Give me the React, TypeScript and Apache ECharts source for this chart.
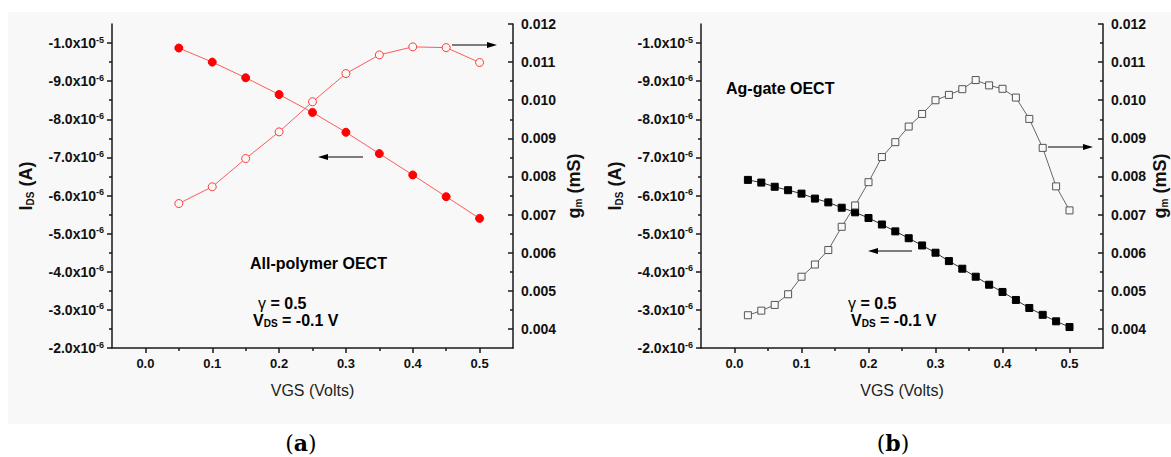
import React, { useEffect, useRef } from 'react';
import * as echarts from 'echarts';

// ---------- Data ----------
const VGS_A = [0.05, 0.1, 0.15, 0.2, 0.25, 0.3, 0.35, 0.4, 0.45, 0.5];
const IDS_A = [-9.87e-6, -9.5e-6, -9.09e-6, -8.65e-6, -8.18e-6, -7.66e-6, -7.1e-6, -6.54e-6, -5.97e-6, -5.4e-6];
const GM_A = [0.00729, 0.00773, 0.00847, 0.00917, 0.00996, 0.0107, 0.01119, 0.0114, 0.01138, 0.01099];

const VGS_B = [0.02, 0.04, 0.06, 0.08, 0.1, 0.12, 0.14, 0.16, 0.18, 0.2, 0.22, 0.24, 0.26, 0.28, 0.3, 0.32, 0.34, 0.36, 0.38, 0.4, 0.42, 0.44, 0.46, 0.48, 0.5];
const IDS_B = [-6.41e-6, -6.34e-6, -6.23e-6, -6.14e-6, -6.05e-6, -5.92e-6, -5.82e-6, -5.68e-6, -5.56e-6, -5.41e-6, -5.24e-6, -5.06e-6, -4.88e-6, -4.69e-6, -4.5e-6, -4.28e-6, -4.08e-6, -3.87e-6, -3.66e-6, -3.47e-6, -3.26e-6, -3.05e-6, -2.87e-6, -2.7e-6, -2.55e-6];
const GM_B = [0.00436, 0.00448, 0.00463, 0.00491, 0.00537, 0.00569, 0.00607, 0.00668, 0.00724, 0.00785, 0.00851, 0.0089, 0.00931, 0.00964, 0.01, 0.01014, 0.01029, 0.01053, 0.01039, 0.0103, 0.01007, 0.00951, 0.00875, 0.00774, 0.00711];

// ---------- Tick values ----------
const X_TICKS = [0, 0.1, 0.2, 0.3, 0.4, 0.5];
const X_MINOR = [0.05, 0.15, 0.25, 0.35, 0.45];
const IDS_TICKS = [-1e-5, -9e-6, -8e-6, -7e-6, -6e-6, -5e-6, -4e-6, -3e-6, -2e-6];
const IDS_MINOR = [-9.5e-6, -8.5e-6, -7.5e-6, -6.5e-6, -5.5e-6, -4.5e-6, -3.5e-6, -2.5e-6];
const GM_TICKS = [0.004, 0.005, 0.006, 0.007, 0.008, 0.009, 0.01, 0.011, 0.012];
const GM_MINOR = [0.0045, 0.0055, 0.0065, 0.0075, 0.0085, 0.0095, 0.0105, 0.0115];

const SANS = '"Liberation Sans", Arial, sans-serif';
const AX = '#1a1a1a';

const tickRich = {
  a: { fontFamily: SANS, fontWeight: 'bold' as const, fontSize: 14, color: '#111', lineHeight: 16 },
  s: { fontFamily: SANS, fontWeight: 'bold' as const, fontSize: 9, color: '#111', verticalAlign: 'top' as const, padding: [0, 0, 3, 0] },
};
const nameRich = {
  b: { fontFamily: SANS, fontWeight: 'bold' as const, fontSize: 18, color: '#111' },
  s: { fontFamily: SANS, fontWeight: 'bold' as const, fontSize: 10, color: '#111', verticalAlign: 'bottom' as const },
};

function idsLabel(v: number) {
  const n = Math.round(-v * 1e6);
  if (n === 10) return '{a|-1.0x10}{s|-5}';
  return `{a|-${n}.0x10}{s|-6}`;
}

function buildX(grid: number) {
  return [
    {
      type: 'value', gridIndex: grid, position: 'bottom', min: -0.05, max: 0.55,
      axisLine: { show: true, onZero: false, lineStyle: { color: AX, width: 1.5 } },
      axisTick: { show: true, customValues: X_TICKS, length: 5, lineStyle: { color: AX, width: 1.5 } },
      axisLabel: { show: true, customValues: X_TICKS, margin: 9, formatter: (v: number) => v.toFixed(1), fontFamily: SANS, fontWeight: 'bold', fontSize: 13, color: '#111' },
      splitLine: { show: false },
      name: 'VGS (Volts)', nameLocation: 'middle', nameGap: 34,
      nameTextStyle: { fontFamily: SANS, fontSize: 16, color: '#222' },
    },
    {
      type: 'value', gridIndex: grid, position: 'bottom', min: -0.05, max: 0.55,
      axisLine: { show: false, onZero: false },
      axisTick: { show: true, customValues: X_MINOR, length: 3, lineStyle: { color: AX, width: 1.5 } },
      axisLabel: { show: false },
      splitLine: { show: false },
    },
  ];
}

function buildY(grid: number, rightGap: number) {
  return [
    {
      type: 'value', gridIndex: grid, position: 'left', inverse: true, min: -1.05e-5, max: -2e-6,
      axisLine: { show: true, onZero: false, lineStyle: { color: AX, width: 1.5 } },
      axisTick: { show: true, customValues: IDS_TICKS, length: 5, lineStyle: { color: AX, width: 1.5 } },
      axisLabel: { show: true, customValues: IDS_TICKS, margin: 8, formatter: idsLabel, rich: tickRich },
      splitLine: { show: false },
      name: '{b|I}{s|DS}{b| (A)}', nameLocation: 'middle', nameGap: 77,
      nameTextStyle: { rich: nameRich },
    },
    {
      type: 'value', gridIndex: grid, position: 'left', inverse: true, min: -1.05e-5, max: -2e-6,
      axisLine: { show: false, onZero: false },
      axisTick: { show: true, customValues: IDS_MINOR, length: 3, lineStyle: { color: AX, width: 1.5 } },
      axisLabel: { show: false },
      splitLine: { show: false },
    },
    {
      type: 'value', gridIndex: grid, position: 'right', min: 0.0035, max: 0.012,
      axisLine: { show: true, onZero: false, lineStyle: { color: AX, width: 1.5 } },
      axisTick: { show: true, inside: true, customValues: GM_TICKS, length: 5, lineStyle: { color: AX, width: 1.5 } },
      axisLabel: { show: true, customValues: GM_TICKS, margin: 8, formatter: (v: number) => v.toFixed(3), fontFamily: SANS, fontWeight: 'bold', fontSize: 14, color: '#111' },
      splitLine: { show: false },
      name: '{b|g}{s|m}{b| (mS)}', nameLocation: 'middle', nameGap: rightGap,
      nameTextStyle: { rich: nameRich },
    },
    {
      type: 'value', gridIndex: grid, position: 'right', min: 0.0035, max: 0.012,
      axisLine: { show: false, onZero: false },
      axisTick: { show: true, inside: true, customValues: GM_MINOR, length: 3, lineStyle: { color: AX, width: 1.5 } },
      axisLabel: { show: false },
      splitLine: { show: false },
    },
  ];
}

function arrow(x1: number, x2: number, y: number) {
  const dir = x2 > x1 ? 1 : -1;
  return [
    { type: 'line', shape: { x1, y1: y, x2: x2 - dir * 6, y2: y }, style: { stroke: '#000', lineWidth: 1 } },
    { type: 'polygon', shape: { points: [[x2, y], [x2 - dir * 10, y - 3], [x2 - dir * 10, y + 3]] }, style: { fill: '#000' } },
  ];
}

const annoRich = {
  b: { fontFamily: SANS, fontWeight: 'bold' as const, fontSize: 16, color: '#111' },
  g: { fontFamily: SANS, fontSize: 16, color: '#111' },
  s: { fontFamily: SANS, fontWeight: 'bold' as const, fontSize: 10, color: '#111', verticalAlign: 'bottom' as const },
};
const SERIF = '"DejaVu Serif", "Liberation Serif", serif';
const capRich = {
  p: { fontFamily: SERIF, fontSize: 22, color: '#111' },
  b: { fontFamily: SERIF, fontSize: 22, fontWeight: 'bold' as const, color: '#111' },
};

function txt(text: string, x: number, y: number, rich: any, align = 'left') {
  return { type: 'text', style: { text, x, y, rich, align, verticalAlign: 'middle' } };
}

export default function App() {
  const ref = useRef<HTMLDivElement>(null);
  useEffect(() => {
    if (!ref.current) return;
    const chart = echarts.init(ref.current, undefined, { renderer: 'svg' });
    const option: any = {
      animation: false,
      backgroundColor: 'transparent',
      grid: [
        { left: 112, top: 24, width: 401, height: 324, outerBoundsMode: 'none', containLabel: false },
        { left: 701, top: 24, width: 402, height: 324, outerBoundsMode: 'none', containLabel: false },
      ],
      xAxis: [...buildX(0), ...buildX(1)],
      yAxis: [...buildY(0, 52), ...buildY(1, 48)],
      series: [
        {
          type: 'line', xAxisIndex: 0, yAxisIndex: 0, data: VGS_A.map((x, i) => [x, IDS_A[i]]),
          symbol: 'circle', symbolSize: 8, itemStyle: { color: '#ff0000', borderColor: '#ff0000' },
          lineStyle: { color: '#ff5a5a', width: 1 }, z: 3,
        },
        {
          type: 'line', xAxisIndex: 0, yAxisIndex: 2, data: VGS_A.map((x, i) => [x, GM_A[i]]),
          symbol: 'circle', symbolSize: 8, itemStyle: { color: '#f8f8f8', borderColor: '#ff3a3a', borderWidth: 1 },
          lineStyle: { color: '#ff5a5a', width: 1 }, z: 3,
        },
        {
          type: 'line', xAxisIndex: 2, yAxisIndex: 4, data: VGS_B.map((x, i) => [x, IDS_B[i]]),
          symbol: 'rect', symbolSize: 7, itemStyle: { color: '#000', borderColor: '#000' },
          lineStyle: { color: '#333', width: 1 }, z: 3,
        },
        {
          type: 'line', xAxisIndex: 2, yAxisIndex: 6, data: VGS_B.map((x, i) => [x, GM_B[i]]),
          symbol: 'rect', symbolSize: 7, itemStyle: { color: '#f8f8f8', borderColor: '#555', borderWidth: 1 },
          lineStyle: { color: '#666', width: 1 }, z: 3,
        },
      ],
      graphic: [
        txt('{b|All-polymer OECT}', 250, 263, annoRich),
        txt('{g|γ}{b| = 0.5}', 258, 303, annoRich),
        txt('{b|V}{s|DS}{b| = -0.1 V}', 253, 320, annoRich),
        txt('{b|Ag-gate OECT}', 726, 88, annoRich),
        txt('{g|γ}{b| = 0.5}', 848, 303, annoRich),
        txt('{b|V}{s|DS}{b| = -0.1 V}', 851, 320, annoRich),
        ...arrow(363, 318, 157),
        ...arrow(452, 497, 45),
        ...arrow(912, 868, 251),
        ...arrow(1048, 1093, 147),
        txt('{p|(}{b|a}{p|)}', 301, 443, capRich, 'center'),
        txt('{p|(}{b|b}{p|)}', 893, 443, capRich, 'center'),
      ],
    };
    chart.setOption(option);
    return () => chart.dispose();
  }, []);
  return (
    <div style={{ position: 'absolute', left: 0, top: 0, width: 1171, height: 457, background: '#fff', overflow: 'hidden' }}>
      <div style={{ position: 'absolute', left: 8, top: 12, width: 1163, height: 412, background: '#f8f8f8' }} />
      <div ref={ref} style={{ position: 'absolute', left: 0, top: 0, width: 1171, height: 457 }} />
    </div>
  );
}
